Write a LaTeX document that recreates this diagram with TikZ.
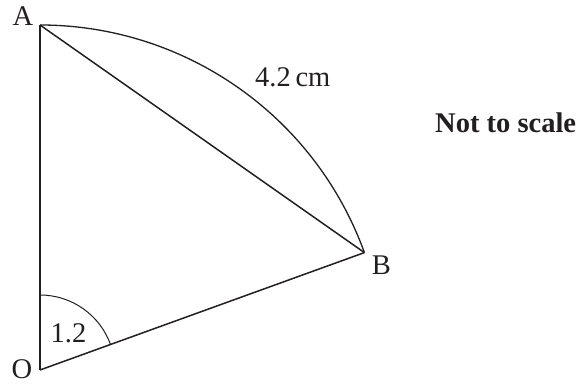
\documentclass[tikz,border=0pt]{standalone}
\usepackage{fontspec}
\setmainfont{Liberation Serif}
\definecolor{ink}{HTML}{231F20}
\begin{document}
\begin{tikzpicture}[x=1pt,y=1pt,
  lbl/.style={inner sep=0pt,anchor=base,text=ink,font=\fontsize{28.5}{30}\selectfont},
  edge/.style={draw=ink,line width=1.5pt,line join=miter},
  arcline/.style={draw=ink,line width=1.3pt},
  anglearc/.style={draw=ink,line width=1pt}]
\useasboundingbox (0,0) rectangle (584,385);
\coordinate (O) at (40,15);
\coordinate (A) at (40,360);
\coordinate (B) at (364.4,132.4);
\draw[edge] (O) -- (A);
\draw[edge] (O) -- (B);
\draw[edge] (A) -- (B);
\draw[arcline] (A) arc[start angle=90,end angle=19.9,radius=345];
\draw[anglearc] ([yshift=75pt]O) arc[start angle=90,end angle=19.9,radius=75];
\node[lbl] (la) at (23,359) {A};
\node[lbl] (lo) at (22,6.5) {O};
\node[lbl] (lb) at (381.5,110) {B};
\node[lbl] (ang) at (68.5,42) {1.2};
\node[lbl,anchor=base west] (len) at (255,298) {4.2\,cm};
\node[lbl,anchor=base west,font=\fontsize{28.5}{30}\selectfont\bfseries] (nts) at (435,252) {Not to scale};
\end{tikzpicture}
\end{document}
